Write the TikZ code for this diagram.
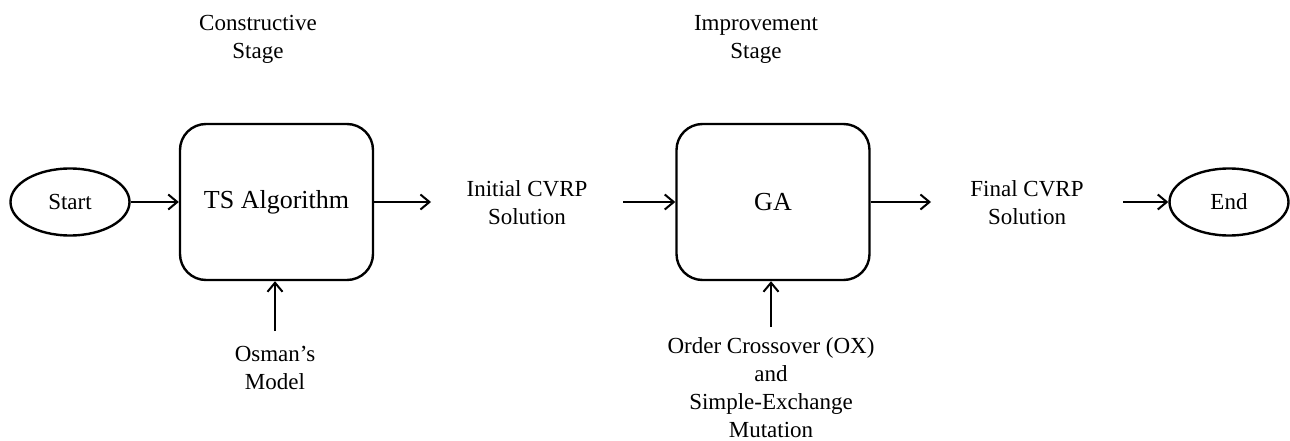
\documentclass[tikz,border=0pt]{standalone}
\usepackage{fontspec}
\setmainfont{Liberation Serif}
\usetikzlibrary{arrows.meta,shapes.geometric}
\tikzset{
  x=1pt, y=-1pt,
  txt/.style={align=center, font=\fontsize{23}{28}\selectfont, inner sep=0pt},
  stagebox/.style={draw, line width=2.4pt, rounded corners=26pt, minimum width=193pt, minimum height=156pt, inner sep=0pt, font=\fontsize{26}{30}\selectfont},
  term/.style={draw, ellipse, line width=2.4pt, minimum width=119pt, minimum height=67pt, inner sep=0pt, font=\fontsize{23}{28}\selectfont},
  flow/.style={line width=2pt, -{Straight Barb[length=9pt,width=15pt,line width=2pt]}}
}
\begin{document}
\begin{tikzpicture}
\useasboundingbox (0,0) rectangle (1290,441);
% stage headings
\node[txt] (h1) at (258,39) {Constructive\\Stage};
\node[txt] (h2) at (756,39) {Improvement\\Stage};
% main flow
\node[term] (start) at (70,202) {Start};
\node[stagebox] (ts) at (276.5,202) {TS Algorithm};
\node[txt] (init) at (527,202.5) {Initial CVRP\\Solution};
\node[stagebox] (ga) at (773,202) {GA};
\node[txt] (final) at (1027,202.5) {Final CVRP\\Solution};
\node[term] (end) at (1229,202) {End};
% inputs
\node[txt] (osman) at (275,368) {Osman’s\\Model};
\node[txt] (ops) at (771,388) {Order Crossover (OX)\\and\\Simple-Exchange\\Mutation};
\coordinate (tsout) at (431,202);
\coordinate (initout) at (623,202);
\coordinate (gaout) at (931,202);
\coordinate (finalout) at (1123,202);
\coordinate (osmanup) at (275,331);
\coordinate (opsup) at (771,327);
\draw[flow] (start) -- (ts);
\draw[flow] (ts) -- (tsout);
\draw[flow] (initout) -- (ga);
\draw[flow] (ga) -- (gaout);
\draw[flow] (finalout) -- (end);
\draw[flow] (osmanup) -- (ts.south -| osmanup);
\draw[flow] (opsup) -- (ga.south -| opsup);
\end{tikzpicture}
\end{document}
